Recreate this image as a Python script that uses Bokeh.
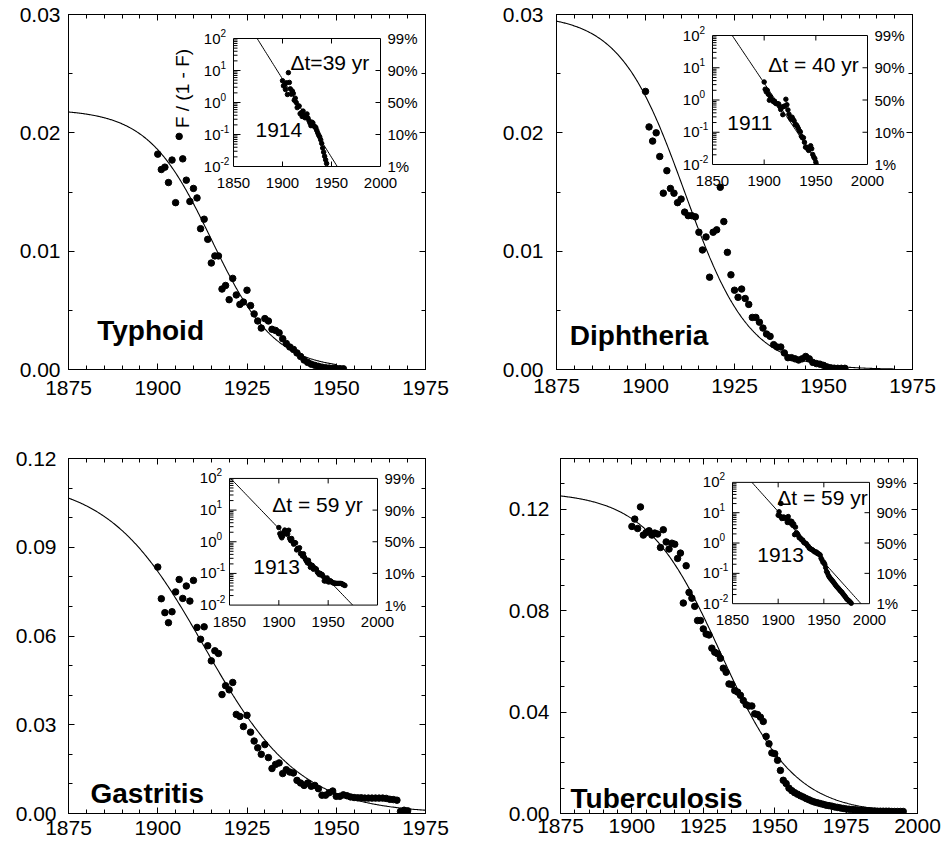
import numpy as np
from bokeh.plotting import figure
from bokeh.models import Range1d, LinearAxis, FixedTicker, LogScale, NumeralTickFormatter
from bokeh.layouts import column, row
from bokeh.embed import file_html
from bokeh.resources import INLINE
from bokeh.core.properties import value

FONT = "Liberation Sans"

# ------------------------------------------------------------------ data
typhoid_years = [1900, 1901, 1902, 1903, 1904, 1905, 1906, 1907, 1908, 1909,
                 1910, 1911, 1912, 1913, 1914, 1915, 1916, 1917, 1918, 1919,
                 1920, 1921, 1922, 1923, 1924, 1925, 1926, 1927, 1928, 1929,
                 1930, 1931, 1932, 1933, 1934, 1935, 1936, 1937, 1938, 1939,
                 1940, 1941, 1942, 1943, 1944, 1945, 1946, 1947, 1948, 1949,
                 1950, 1951, 1952]
typhoid_rate = [0.0182, 0.0169, 0.0171, 0.0158, 0.0177, 0.0141, 0.0197, 0.0178, 0.0160, 0.0142,
                0.0153, 0.0145, 0.0119, 0.0127, 0.0110, 0.0090, 0.0096, 0.0096, 0.0068, 0.0071,
                0.0059, 0.0077, 0.0063, 0.0055, 0.0057, 0.0067, 0.0054, 0.0047, 0.0041, 0.0035,
                0.0043, 0.0041, 0.0034, 0.0033, 0.0031, 0.0026, 0.0022, 0.0019, 0.0017, 0.0014,
                0.0011, 0.0008, 0.0006, 0.00045, 0.00035, 0.00027, 0.0002, 0.00015, 0.00012, 0.0001,
                0.00008, 0.00007, 0.00006]

diphtheria_years = [1900, 1901, 1902, 1903, 1904, 1905, 1906, 1907, 1908, 1909,
                    1910, 1911, 1912, 1913, 1914, 1915, 1916, 1917, 1918, 1919,
                    1920, 1921, 1922, 1923, 1924, 1925, 1926, 1927, 1928, 1929,
                    1930, 1931, 1932, 1933, 1934, 1935, 1936, 1937, 1938, 1939,
                    1940, 1941, 1942, 1943, 1944, 1945, 1946, 1947, 1948, 1949,
                    1950, 1951, 1952, 1953, 1954, 1955, 1956]
diphtheria_rate = [0.0235, 0.0205, 0.0193, 0.0200, 0.0180, 0.0149, 0.0168, 0.0153, 0.0149, 0.0141,
                   0.0144, 0.0133, 0.0130, 0.0130, 0.0129, 0.0116, 0.0101, 0.0112, 0.0078, 0.0116,
                   0.0118, 0.0154, 0.0125, 0.0099, 0.0080, 0.0067, 0.0061, 0.0068, 0.0060, 0.0055,
                   0.0044, 0.0044, 0.0040, 0.0035, 0.0030, 0.0028, 0.0021, 0.0019, 0.0019, 0.0014,
                   0.0010, 0.0010, 0.0009, 0.0008, 0.0009, 0.0011, 0.0009, 0.0006, 0.0005, 0.00045,
                   0.00035, 0.00022, 0.00014, 0.00011, 0.0001, 0.0001, 0.0001]

gastritis_years = [1900, 1901, 1902, 1903, 1904, 1905, 1906, 1907, 1908, 1909,
                   1910, 1911, 1912, 1913, 1914, 1915, 1916, 1917, 1918, 1919,
                   1920, 1921, 1922, 1923, 1924, 1925, 1926, 1927, 1928, 1929,
                   1930, 1931, 1932, 1933, 1934, 1935, 1936, 1937, 1938, 1939,
                   1940, 1941, 1942, 1943, 1944, 1945, 1946, 1947, 1948, 1949,
                   1950, 1951, 1952, 1953, 1954, 1955, 1956, 1957, 1958, 1959,
                   1960, 1961, 1962, 1963, 1964, 1965, 1966, 1967, 1968, 1969,
                   1970]
gastritis_rate = [0.0833, 0.0726, 0.0679, 0.0645, 0.0682, 0.0749, 0.0791, 0.0727, 0.0769, 0.0718,
                  0.0788, 0.0629, 0.0589, 0.0631, 0.0567, 0.0516, 0.0550, 0.0541, 0.0402, 0.0432,
                  0.0418, 0.0443, 0.0335, 0.0328, 0.0294, 0.0332, 0.0275, 0.0245, 0.0222, 0.0200,
                  0.0233, 0.0189, 0.0152, 0.0166, 0.0171, 0.0135, 0.0148, 0.0140, 0.0137, 0.0112,
                  0.0103, 0.0095, 0.0103, 0.0092, 0.0095, 0.0084, 0.0062, 0.0062, 0.0070, 0.0076,
                  0.0058, 0.0058, 0.0063, 0.0060, 0.0056, 0.0054, 0.0053, 0.0053, 0.0052, 0.0052,
                  0.0052, 0.0052, 0.0052, 0.0052, 0.0051, 0.0048, 0.0047, 0.0045, 0.0007, 0.0011,
                  0.0009]

tb_years = [1900, 1901, 1902, 1903, 1904, 1905, 1906, 1907, 1908, 1909,
            1910, 1911, 1912, 1913, 1914, 1915, 1916, 1917, 1918, 1919,
            1920, 1921, 1922, 1923, 1924, 1925, 1926, 1927, 1928, 1929,
            1930, 1931, 1932, 1933, 1934, 1935, 1936, 1937, 1938, 1939,
            1940, 1941, 1942, 1943, 1944, 1945, 1946, 1947, 1948, 1949,
            1950, 1951, 1952, 1953, 1954, 1955, 1956, 1957, 1958, 1959,
            1960, 1961, 1962, 1963, 1964, 1965, 1966, 1967, 1968, 1969,
            1970, 1971, 1972, 1973, 1974, 1975, 1976, 1977, 1978, 1979,
            1980, 1981, 1982, 1983, 1984, 1985, 1986, 1987, 1988, 1989,
            1990, 1991, 1992, 1993, 1994, 1995]
tb_rate = [0.1132, 0.1161, 0.1124, 0.1209, 0.1098, 0.1108, 0.1115, 0.1098, 0.1106, 0.1102,
           0.1049, 0.1119, 0.1071, 0.1043, 0.1066, 0.1062, 0.1006, 0.1027, 0.0830, 0.0977,
           0.0872, 0.0849, 0.0817, 0.0761, 0.0761, 0.0728, 0.0708, 0.0704, 0.0652, 0.0636,
           0.0630, 0.0612, 0.0573, 0.0557, 0.0511, 0.0509, 0.0485, 0.0479, 0.0466, 0.0446,
           0.0429, 0.0424, 0.0424, 0.0393, 0.0390, 0.0380, 0.0363, 0.0304, 0.0275, 0.0239,
           0.0236, 0.0210, 0.0170, 0.0131, 0.0118, 0.0100, 0.0090, 0.0082, 0.0076, 0.0070,
           0.0065, 0.0059, 0.0054, 0.0049, 0.0045, 0.0042, 0.0039, 0.0036, 0.0033, 0.0031,
           0.0029, 0.0026, 0.0024, 0.0022, 0.0020, 0.0018, 0.0017, 0.0016, 0.0015, 0.0014,
           0.0013, 0.0012, 0.0011, 0.0011, 0.0010, 0.0010, 0.0009, 0.0009, 0.0009, 0.0009,
           0.0009, 0.0008, 0.0008, 0.0008, 0.0008, 0.0008]

# logistic fits (asymptote, midpoint year, 10%-90% takeover time, last year drawn)
typhoid_fit = (0.0220, 1915.0, 39.0, 1950.0)
diphtheria_fit = (0.0300, 1911.0, 40.0, 1970.0)
gastritis_fit = (0.1129, 1913.0, 59.0, 1975.0)
tb_fit = (0.1269, 1931.0, 57.0, 1985.0)

panel_names = ["Typhoid", "Diphtheria", "Gastritis", "Tuberculosis"]
dt_texts = ["\u0394t=39 yr", "\u0394t = 40 yr", "\u0394t = 59 yr", "\u0394t = 59 yr"]
mid_texts = ["1914", "1911", "1913", "1913"]

x_ticks_a = [1875, 1900, 1925, 1950, 1975]
x_ticks_b = [1875, 1900, 1925, 1950, 1975, 2000]
y_ticks_typhoid = [0.0, 0.01, 0.02, 0.03]
y_ticks_gastritis = [0.0, 0.03, 0.06, 0.09, 0.12]
y_ticks_tb = [0.0, 0.04, 0.08, 0.12]

inset_x_ticks = [1850, 1900, 1950, 2000]
inset_decades = [-2, -1, 0, 1, 2]
inset_pct = ["1%", "10%", "50%", "90%", "99%"]
inset_ylabel = "F / (1 - F)"

LN81 = np.log(81.0)


def style_axis(ax, labels):
    ax.major_tick_in = 6
    ax.major_tick_out = 0
    ax.minor_tick_in = 4
    ax.minor_tick_out = 0
    ax.axis_line_color = "black"
    ax.major_tick_line_color = "black"
    ax.minor_tick_line_color = "black"
    if labels:
        ax.major_label_text_font = FONT
        ax.major_label_text_font_size = "21px"
        ax.major_label_text_color = "black"
    else:
        ax.major_label_text_color = None
        ax.major_label_text_font_size = "1px"
        ax.major_label_standoff = 0


def make_panel(name, years, rate, fit, dt_text, mid_text, xr, yr, xticks, yticks,
               y_minor_step, geo):
    cx, cy, W, H = geo["canvas"]
    FL, FR, FT, FB = geo["frame"]
    IL, IR, IT, IB = geo["inset"]
    A, t0, dt, tend = fit

    p = figure(width=W, height=H, x_range=Range1d(*xr), y_range=Range1d(*yr),
               output_backend="svg", toolbar_location=None,
               min_border_left=FL - cx, min_border_right=cx + W - FR,
               min_border_top=FT - cy, min_border_bottom=cy + H - FB,
               background_fill_color="white", border_fill_color="white",
               outline_line_color="black")
    p.grid.visible = False

    xt = FixedTicker(ticks=xticks, minor_ticks=list(np.arange(xr[0], xr[1] + 0.1, 5.0)))
    yt = FixedTicker(ticks=yticks, minor_ticks=list(np.arange(yr[0], yr[1] + 1e-9, y_minor_step)))
    bottom = p.below[0]
    left = p.left[0]
    bottom.ticker = xt
    left.ticker = yt
    left.formatter = NumeralTickFormatter(format="0.00")

    top = LinearAxis(ticker=xt)
    right = LinearAxis(ticker=yt)
    p.add_layout(top, "above")
    p.add_layout(right, "right")

    style_axis(bottom, True)
    style_axis(left, True)
    style_axis(top, False)
    style_axis(right, False)
    bottom.major_label_standoff = geo["xstand"]
    left.major_label_standoff = geo["ystand"]

    # main frame mapping helpers
    def mx(px):
        return xr[0] + (px - FL) * (xr[1] - xr[0]) / (FR - FL)

    def my(py):
        return yr[0] + (FB - py) * (yr[1] - yr[0]) / (FB - FT)

    # fitted curve + data
    t = np.linspace(xr[0], tend, 400)
    p.line(t, A / (1.0 + np.exp(LN81 * (t - t0) / dt)), line_color="black", line_width=1.1)
    p.scatter(years, rate, size=6.5, fill_color="black", line_color="black")

    lx, ly = geo["name_pos"]
    p.text(x=[mx(lx)], y=[my(ly)], text=[name], text_font=value(FONT),
           text_font_style="bold", text_font_size="28px", text_align="left",
           text_baseline="alphabetic", text_color="black")

    # ---------------- inset (own x range and log y range)
    xpp = 150.0 / (IR - IL)
    dpp = 4.0 / (IB - IT)
    p.extra_x_ranges = {"ix": Range1d(1850 - (IL - FL) * xpp, 2000 + (FR - IR) * xpp)}
    p.extra_y_ranges = {"iy": Range1d(10 ** (-2 - (FB - IB) * dpp), 10 ** (2 + (IT - FT) * dpp))}
    p.extra_y_scales = {"iy": LogScale()}
    kw = dict(x_range_name="ix", y_range_name="iy")

    def ipx(px):
        return 1850 + (px - IL) * xpp

    def ipy(py):
        return 10 ** (2 - (py - IT) * dpp)

    x_lo, x_hi = inset_x_ticks[0], inset_x_ticks[-1]
    y_lo, y_hi = 10.0 ** inset_decades[0], 10.0 ** inset_decades[-1]
    p.quad(left=[x_lo], right=[x_hi], bottom=[y_lo], top=[y_hi], fill_color="white",
           line_color="black", line_width=1, **kw)

    x0s, x1s, y0s, y1s = [], [], [], []
    for d in inset_decades[1:-1]:
        v = 10.0 ** d
        x0s += [x_lo, x_hi]; x1s += [x_lo + 7 * xpp, x_hi - 5 * xpp]; y0s += [v, v]; y1s += [v, v]
    for d in inset_decades[:-1]:
        for m in range(2, 10):
            v = m * 10.0 ** d
            x0s.append(x_lo); x1s.append(x_lo + 4 * xpp); y0s.append(v); y1s.append(v)
    for tx in inset_x_ticks[1:-1]:
        x0s += [tx, tx]; x1s += [tx, tx]
        y0s += [y_lo, y_hi]; y1s += [y_lo * 10 ** (5 * dpp), y_hi / 10 ** (5 * dpp)]
    p.segment(x0=x0s, y0=y0s, x1=x1s, y1=y1s, line_color="black", line_width=1, **kw)

    # fitted straight line  F/(1-F) = exp(-ln81 (t - t0)/dt)
    half = dt * np.log(100.0) / LN81
    tl = np.linspace(max(x_lo, t0 - half), min(x_hi, t0 + half), 60)
    p.line(tl, np.exp(-LN81 * (tl - t0) / dt), line_color="black", line_width=1, **kw)

    F = np.array(rate) / A
    ratio = F / (1.0 - F)
    ok = (ratio >= y_lo) & (ratio <= y_hi)
    p.scatter(np.array(years)[ok], ratio[ok], size=4.5, fill_color="black",
              line_color="black", **kw)

    # inset tick labels
    p.text(x=[ipx(IL - 13)] * len(inset_decades), y=[10.0 ** d for d in inset_decades],
           text=["10"] * len(inset_decades), text_font=value(FONT), text_font_size="15px",
           text_align="right", text_baseline="middle", text_color="black", **kw)
    p.text(x=[ipx(IL - 13)] * len(inset_decades),
           y=[10.0 ** d * 10 ** (6 * dpp) for d in inset_decades],
           text=[str(d) for d in inset_decades], text_font=value(FONT), text_font_size="10px",
           text_align="left", text_baseline="middle", text_color="black", **kw)
    p.text(x=[ipx(IR + 7)] * len(inset_decades), y=[10.0 ** d for d in inset_decades],
           text=inset_pct, text_font=value(FONT), text_font_size="15px",
           text_align="left", text_baseline="middle", text_color="black", **kw)
    p.text(x=inset_x_ticks, y=[ipy(IB + 16.5)] * len(inset_x_ticks),
           text=[str(v) for v in inset_x_ticks], text_font=value(FONT), text_font_size="15px",
           text_align="center", text_baseline="middle", text_color="black", **kw)

    dx, dy = geo["dt_pos"]
    p.text(x=[ipx(dx)], y=[ipy(dy)], text=[dt_text], text_font=value(FONT),
           text_font_size="21px", text_align="left", text_baseline="middle",
           text_color="black", **kw)
    mxp, myp = geo["mid_pos"]
    p.text(x=[ipx(mxp)], y=[ipy(myp)], text=[mid_text], text_font=value(FONT),
           text_font_size="21px", text_align="left", text_baseline="middle",
           text_color="black", **kw)
    if geo.get("ylabel_pos"):
        qx, qy = geo["ylabel_pos"]
        p.text(x=[ipx(qx)], y=[ipy(qy)], text=[inset_ylabel], text_font=value(FONT),
               text_font_size="19px", text_align="center", text_baseline="middle",
               angle=np.pi / 2, text_color="black", **kw)
    return p


geo1 = dict(canvas=(0, 0, 470, 420), frame=(68, 425, 14, 369), inset=(233, 380, 38, 166),
            xstand=11, ystand=8, name_pos=(96.7, 330), dt_pos=(290, 62), mid_pos=(255, 129.5),
            ylabel_pos=(182, 88))
geo2 = dict(canvas=(470, 0, 474, 420), frame=(556, 912, 14, 369), inset=(712, 867, 35, 164),
            xstand=9, ystand=13, name_pos=(569.3, 335), dt_pos=(767.7, 64), mid_pos=(726.7, 122.5))
geo3 = dict(canvas=(0, 420, 470, 432), frame=(68, 425, 457, 813), inset=(229, 377, 477, 604),
            xstand=7, ystand=12, name_pos=(90, 792.7), dt_pos=(271.7, 503), mid_pos=(252.7, 566))
geo4 = dict(canvas=(470, 420, 474, 432), frame=(560, 917, 458, 815), inset=(732, 869, 482, 604),
            xstand=5, ystand=11, name_pos=(570, 800), dt_pos=(776.7, 497.5), mid_pos=(756.7, 555))

p1 = make_panel(panel_names[0], typhoid_years, typhoid_rate, typhoid_fit, dt_texts[0], mid_texts[0],
                (1875, 1975), (0, 0.03), x_ticks_a, y_ticks_typhoid, 0.005, geo1)
p2 = make_panel(panel_names[1], diphtheria_years, diphtheria_rate, diphtheria_fit, dt_texts[1],
                mid_texts[1], (1875, 1975), (0, 0.03), x_ticks_a, y_ticks_typhoid, 0.005, geo2)
p3 = make_panel(panel_names[2], gastritis_years, gastritis_rate, gastritis_fit, dt_texts[2],
                mid_texts[2], (1875, 1975), (0, 0.12), x_ticks_a, y_ticks_gastritis, 0.01, geo3)
p4 = make_panel(panel_names[3], tb_years, tb_rate, tb_fit, dt_texts[3], mid_texts[3],
                (1875, 2000), (0, 0.14), x_ticks_b, y_ticks_tb, 0.01, geo4)

layout = column(row(p1, p2), row(p3, p4))
open("out.html", "w").write(file_html(layout, INLINE))
